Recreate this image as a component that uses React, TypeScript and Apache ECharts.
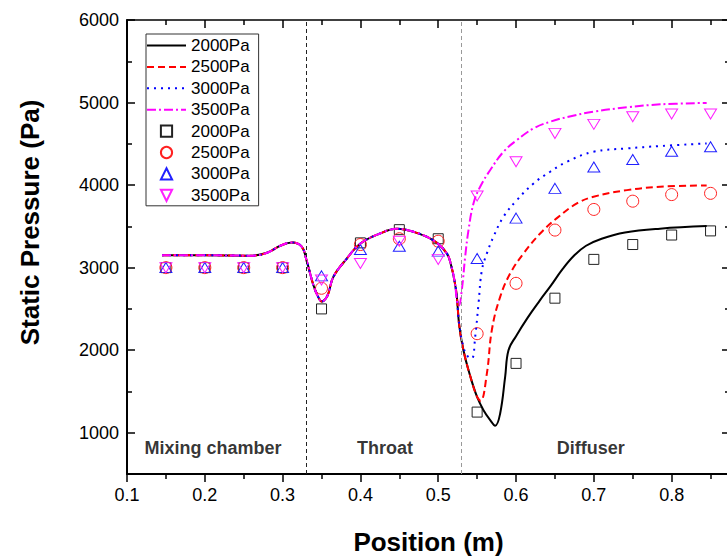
import React, { useEffect, useRef } from 'react';
import * as echarts from 'echarts';

// ---------- data ----------
const pressureLabels = ['2000Pa', '2500Pa', '3000Pa', '3500Pa'];

const expX = [0.15, 0.2, 0.25, 0.3, 0.35, 0.4, 0.45, 0.5, 0.55, 0.6, 0.65, 0.7, 0.75, 0.8, 0.85];
const exp2000 = [3000, 3000, 3000, 3000, 2500, 3300, 3460, 3350, 1250, 1840, 2630, 3100, 3280, 3395, 3445];
const exp2500 = [3000, 3000, 3000, 3000, 2750, 3280, 3350, 3320, 2200, 2810, 3455, 3705, 3805, 3885, 3900];
const exp3000 = [3000, 3000, 3000, 3000, 2900, 3220, 3260, 3200, 3110, 3600, 3960, 4220, 4310, 4410, 4465];
const exp3500 = [3000, 3000, 3000, 3000, 2850, 3050, 3320, 3100, 3867, 4283, 4626, 4736, 4828, 4861, 4861];

// simulated curves: shared part (mixing chamber + throat)
const simCommon: number[][] = [
  [0.145, 3150], [0.2, 3150], [0.26, 3145], [0.28, 3180], [0.297, 3265], [0.312, 3305],
  [0.3245, 3255], [0.331, 3080], [0.3395, 2790], [0.346, 2640], [0.3503, 2590], [0.355, 2620],
  [0.3589, 2690], [0.3653, 2890], [0.3825, 3110], [0.3997, 3290], [0.4252, 3414], [0.4467, 3470],
  [0.4681, 3434], [0.4938, 3330], [0.511, 3172], [0.5165, 3030], [0.5215, 2810],
];
const sim2000Tail: number[][] = [
  [0.524, 2640], [0.527, 2300], [0.5324, 2000], [0.541, 1690], [0.5497, 1440], [0.5582, 1273],
  [0.5668, 1152], [0.5732, 1085], [0.5796, 1233], [0.586, 1676], [0.5903, 2000], [0.6, 2170],
  [0.615, 2395], [0.63, 2595], [0.645, 2785], [0.66, 2985], [0.675, 3150], [0.69, 3265],
  [0.71, 3350], [0.74, 3425], [0.785, 3472], [0.845, 3503],
];
const sim2500Tail: number[][] = [
  [0.524, 2640], [0.527, 2300], [0.5324, 2000], [0.541, 1690], [0.5497, 1440], [0.5545, 1385],
  [0.5625, 1717], [0.569, 2250], [0.5796, 2646], [0.5925, 2930], [0.6096, 3172], [0.631, 3414],
  [0.6525, 3600], [0.6782, 3778], [0.6996, 3859], [0.7425, 3939], [0.7853, 3980], [0.845, 3995],
];
const sim3000Tail: number[][] = [
  [0.524, 2640], [0.527, 2310], [0.5324, 2040], [0.5375, 1930], [0.5432, 1900], [0.5475, 2162],
  [0.5518, 2566], [0.5561, 2970], [0.5625, 3172], [0.571, 3374], [0.5839, 3616], [0.6011, 3818],
  [0.6225, 4020], [0.6439, 4162], [0.6654, 4283], [0.6996, 4404], [0.7425, 4444], [0.7853, 4473],
  [0.845, 4505],
];
const sim3500Tail: number[][] = [
  [0.524, 2600], [0.5265, 2540], [0.5303, 2727], [0.5346, 3131], [0.5389, 3455], [0.5453, 3778],
  [0.5539, 3980], [0.5668, 4182], [0.5839, 4404], [0.6011, 4545], [0.6225, 4687], [0.6439, 4768],
  [0.6675, 4828], [0.6996, 4889], [0.7425, 4942], [0.7853, 4978], [0.845, 4995],
];

const sectionBounds = [0.33, 0.525];
const sectionNames = ['Mixing chamber', 'Throat', 'Diffuser'];
const sectionLabelX = [0.2105, 0.4317, 0.696];
const sectionLabelY = 820;

const xMajorTicks = [0.1, 0.2, 0.3, 0.4, 0.5, 0.6, 0.7, 0.8];
const xMinorTicks = [0.15, 0.25, 0.35, 0.45, 0.55, 0.65, 0.75, 0.85];
const yMajorTicks = [1000, 2000, 3000, 4000, 5000, 6000];
const yMinorTicks = [500, 1500, 2500, 3500, 4500, 5500];

// ---------- styles ----------
const FONT = '"Liberation Sans", Arial, sans-serif';
const simColors = ['#000000', '#ff0000', '#0000ff', '#ff00ff'];
const simDash: any[] = ['solid', [7, 4], [2, 5], [9, 3, 2, 3]];
const expColors = ['#222222', '#ff2020', '#2020ff', '#ff20ff'];
const expSymbols = ['rect', 'circle', 'triangle', 'path://M0,0 L10,0 L5,8.66 Z'];
const expSizes: any[] = [10, 12, [12, 10], [12, 10]];

export default function App() {
  const ref = useRef<HTMLDivElement>(null);
  useEffect(() => {
    if (!ref.current) return;
    const chart = echarts.init(ref.current, undefined, { renderer: 'svg' });
    const simTails = [sim2000Tail, sim2500Tail, sim3000Tail, sim3500Tail];
    const expVals = [exp2000, exp2500, exp3000, exp3500];

    const simSeries = pressureLabels.map((p, i) => ({
      name: p + ' sim',
      type: 'line',
      data: simCommon.concat(simTails[i]),
      symbol: 'none',
      smooth: 0.4,
      z: 3,
      itemStyle: { color: simColors[i], opacity: 0 },
      lineStyle: { color: simColors[i], width: 2, type: simDash[i], opacity: 1 },
      ...(i === 0
        ? {
            markLine: {
              silent: true,
              symbol: ['none', 'none'],
              label: { show: false },
              lineStyle: { type: [4, 3], width: 1 },
              data: [
                { xAxis: sectionBounds[0], lineStyle: { color: '#222', type: [4, 3], width: 1 } },
                { xAxis: sectionBounds[1], lineStyle: { color: '#999', type: [4, 3], width: 1 } },
              ],
            },
          }
        : {}),
    }));

    const expSeries = pressureLabels.map((p, i) => ({
      name: p + ' exp',
      type: 'line',
      data: expX.map((x, k) => [x, expVals[i][k]]),
      symbol: expSymbols[i],
      symbolSize: expSizes[i],
      showSymbol: true,
      z: 2,
      lineStyle: { opacity: 0, width: 0 },
      itemStyle: { color: 'rgba(0,0,0,0)', borderColor: expColors[i], borderWidth: 1 },
    }));

    const labelSeries = {
      name: 'sections',
      type: 'scatter',
      symbolSize: 0,
      silent: true,
      data: sectionNames.map((n, i) => [sectionLabelX[i], sectionLabelY, n]),
      label: {
        show: true,
        position: 'inside',
        formatter: (p: any) => p.value[2],
        fontFamily: FONT,
        fontWeight: 'bold',
        fontSize: 18,
        color: '#000',
      },
    };

    const legendNames = pressureLabels.map((p) => p + ' sim').concat(pressureLabels.map((p) => p + ' exp'));

    const axisCommonX = { type: 'value', min: 0.1, max: 0.875, splitLine: { show: false } };
    const axisCommonY = { type: 'value', min: 500, max: 6000, splitLine: { show: false } };

    chart.setOption({
      animation: false,
      backgroundColor: '#ffffff',
      textStyle: { fontFamily: FONT },
      grid: { left: 127, top: 20, right: -3, bottom: 84, containLabel: false, outerBoundsMode: 'none' },
      legend: {
        data: legendNames,
        orient: 'vertical',
        left: 146,
        top: 34,
        padding: [3, 9, 2, 0],
        itemWidth: 39,
        itemHeight: 14,
        itemGap: 4.4,
        borderColor: '#333',
        borderWidth: 1,
        selectedMode: false,
        formatter: (name: string) => name.split(' ')[0],
        textStyle: { fontFamily: FONT, fontSize: 17, color: '#000', lineHeight: 17 },
      },
      xAxis: [
        {
          ...axisCommonX,
          position: 'bottom',
          axisLine: { show: true, lineStyle: { color: '#000', width: 2 } },
          axisTick: { show: true, customValues: xMajorTicks, length: 8, inside: false, lineStyle: { color: '#000', width: 1.5 } },
          axisLabel: {
            show: true,
            customValues: xMajorTicks,
            formatter: (v: number) => v.toFixed(1),
            fontSize: 18,
            color: '#000',
            fontFamily: FONT,
            margin: 12,
          },
          name: 'Position (m)',
          nameLocation: 'middle',
          nameGap: 55,
          nameTextStyle: { fontFamily: FONT, fontSize: 26, fontWeight: 'bold', color: '#000' },
        },
        {
          ...axisCommonX,
          position: 'bottom',
          axisLine: { show: false },
          axisTick: { show: true, customValues: xMinorTicks, length: 5, inside: false, lineStyle: { color: '#000', width: 1.5 } },
          axisLabel: { show: false },
        },
        {
          ...axisCommonX,
          position: 'top',
          axisLine: { show: true, lineStyle: { color: '#000', width: 1.5 } },
          axisTick: { show: true, customValues: xMajorTicks, length: 8, inside: true, lineStyle: { color: '#000', width: 1.5 } },
          axisLabel: { show: false },
        },
        {
          ...axisCommonX,
          position: 'top',
          axisLine: { show: false },
          axisTick: { show: true, customValues: xMinorTicks, length: 5, inside: true, lineStyle: { color: '#000', width: 1.5 } },
          axisLabel: { show: false },
        },
      ],
      yAxis: [
        {
          ...axisCommonY,
          position: 'left',
          axisLine: { show: true, lineStyle: { color: '#000', width: 2 } },
          axisTick: { show: true, customValues: yMajorTicks, length: 8, inside: true, lineStyle: { color: '#000', width: 1.5 } },
          axisLabel: {
            show: true,
            customValues: yMajorTicks,
            formatter: (v: number) => String(Math.round(v)),
            fontSize: 18,
            color: '#000',
            fontFamily: FONT,
            margin: 8,
          },
          name: 'Static Pressure (Pa)',
          nameLocation: 'middle',
          nameGap: 84,
          nameTextStyle: { fontFamily: FONT, fontSize: 26, fontWeight: 'bold', color: '#000', padding: [0, 0, 0, 49] },
        },
        {
          ...axisCommonY,
          position: 'left',
          axisLine: { show: false },
          axisTick: { show: true, customValues: yMinorTicks, length: 5, inside: true, lineStyle: { color: '#000', width: 1.5 } },
          axisLabel: { show: false },
        },
        {
          ...axisCommonY,
          position: 'right',
          axisLine: { show: true, lineStyle: { color: '#000', width: 2 } },
          axisTick: { show: true, customValues: yMajorTicks, length: 8, inside: true, lineStyle: { color: '#000', width: 1.5 } },
          axisLabel: { show: false },
        },
        {
          ...axisCommonY,
          position: 'right',
          axisLine: { show: false },
          axisTick: { show: true, customValues: yMinorTicks, length: 5, inside: true, lineStyle: { color: '#000', width: 1.5 } },
          axisLabel: { show: false },
        },
      ],
      series: [...expSeries, ...simSeries, labelSeries],
    });
    return () => chart.dispose();
  }, []);
  return (
    <div
      ref={ref}
      style={{ position: 'absolute', left: 0, top: 0, width: 727, height: 558, background: '#fff' }}
    />
  );
}
